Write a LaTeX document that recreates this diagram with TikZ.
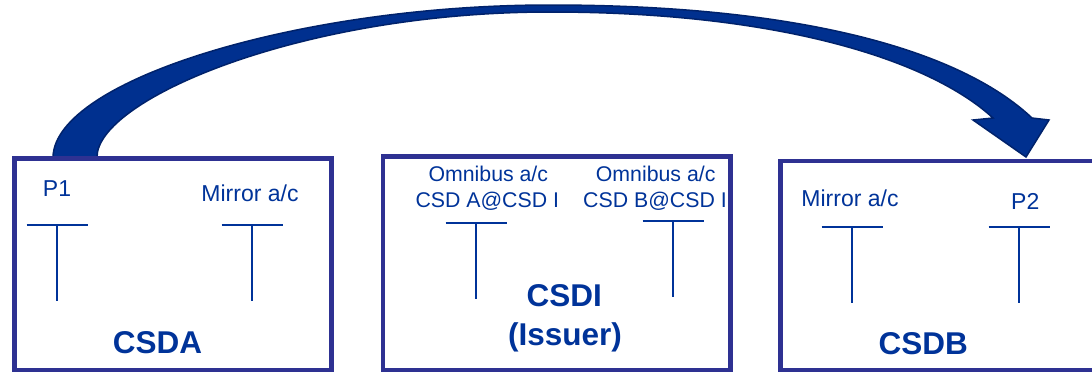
\documentclass[tikz,border=0pt]{standalone}
\usepackage{fontspec}
\setmainfont{Liberation Sans}
\definecolor{txtblue}{HTML}{003399}
\definecolor{boxblue}{HTML}{2E3192}
\definecolor{arrfill}{HTML}{00308F}
\definecolor{arrline}{HTML}{00226B}
\tikzset{
  csdbox/.style={draw=boxblue, line width=4.5pt, rectangle, inner sep=0pt, outer sep=0pt},
  lbl/.style={text=txtblue, inner sep=0pt, font=\fontsize{23}{27}\selectfont},
  smlbl/.style={text=txtblue, inner sep=0pt, font=\fontsize{21.3}{26}\selectfont},
  biglbl/.style={text=txtblue, inner sep=0pt, font=\fontsize{31.5}{36}\selectfont\bfseries},
  tline/.style={draw=txtblue, line width=2pt},
  tacc/.pic={\draw[tline] (-30.5,0) -- (30.5,0) (0,0) -- (0,76);}
}
\begin{document}
\begin{tikzpicture}[x=1pt,y=-1pt]
\useasboundingbox (0,0) rectangle (1092,373);
% curved block arrow
\filldraw[fill=arrfill, draw=arrline, line width=1.5pt, line join=miter]
  (53,157) .. controls (55,80) and (300,5) .. (550,5)
  .. controls (800,5) and (960,50) .. (1032,118)
  -- (1049,120) -- (1026,157) -- (973,120) -- (993,118)
  .. controls (930,60) and (780,12) .. (550,12)
  .. controls (300,12) and (97,100) .. (97,157) -- cycle;
% labels
\node[lbl, anchor=base] (p1) at (57,196) {P1};
\node[lbl, anchor=base] (mirA) at (250,201) {Mirror a/c};
\node[biglbl, anchor=base] (nameA) at (157.5,353) {CSDA};
\node[smlbl, anchor=base] (omA) at (488.3,181.7) {Omnibus a/c};
\node[smlbl, anchor=base] (csdAI) at (487.3,207.7) {CSD A@CSD I};
\node[smlbl, anchor=base] (omB) at (655.7,181.7) {Omnibus a/c};
\node[smlbl, anchor=base] (csdBI) at (655,207.7) {CSD B@CSD I};
\node[biglbl, anchor=base] (nameI) at (564.3,306.7) {CSDI};
\node[biglbl, anchor=base] (issuer) at (565,345) {(Issuer)};
\node[biglbl, anchor=base] (nameB) at (923.3,354) {CSDB};
\node[lbl, anchor=base] (mirB) at (850,206) {Mirror a/c};
\node[lbl, anchor=base] (p2) at (1025.3,209.3) {P2};
% T accounts
\pic at (57,225) {tacc};
\pic at (252,225) {tacc};
\pic at (476,223) {tacc};
\pic at (673,221) {tacc};
\pic at (852,227) {tacc};
\pic at (1019,227) {tacc};
% boxes
\node[csdbox, minimum width=317.2pt, minimum height=211.5pt] (csda) at (172.9,264.25) {};
\node[csdbox, minimum width=347.5pt, minimum height=213.3pt] (csdi) at (556.75,263.35) {};
\node[csdbox, minimum width=329.5pt, minimum height=209.2pt] (csdb) at (945.25,265.4) {};
\end{tikzpicture}
\end{document}
